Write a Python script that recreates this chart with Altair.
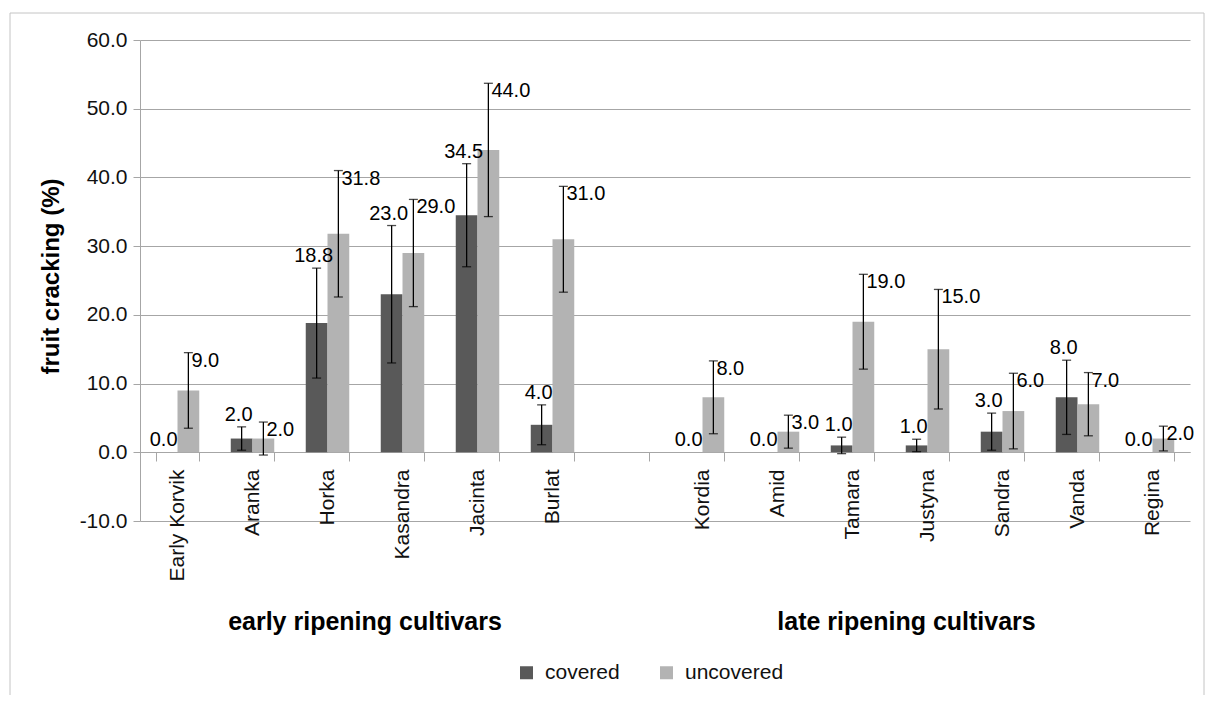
import altair as alt
import pandas as pd

# ---- data ----
early = ["Early Korvik", "Aranka", "Horka", "Kasandra", "Jacinta", "Burlat"]
late = ["Kordia", "Amid", "Tamara", "Justyna", "Sandra", "Vanda", "Regina"]
cultivars = early + late
covered = [0.0, 2.0, 18.8, 23.0, 34.5, 4.0, 0.0, 0.0, 1.0, 1.0, 3.0, 8.0, 0.0]
uncovered = [9.0, 2.0, 31.8, 29.0, 44.0, 31.0, 8.0, 3.0, 19.0, 15.0, 6.0, 7.0, 2.0]
covered_err = [0.0, 1.7, 8.0, 10.0, 7.5, 2.9, 0.0, 0.0, 1.2, 0.9, 2.7, 5.4, 0.0]
uncovered_err = [5.5, 2.4, 9.2, 7.8, 9.7, 7.7, 5.3, 2.4, 6.9, 8.7, 5.5, 4.6, 1.8]
series = ["covered", "uncovered"]
colors = ["#595959", "#b3b3b3"]
group_labels = ["early ripening cultivars", "late ripening cultivars"]
group_anchor = ["Horka", "Justyna"]
y_ticks = [-10, 0, 10, 20, 30, 40, 50, 60]

domain = early + [" "] + late

rows = []
for i, c in enumerate(cultivars):
    rows.append({"cultivar": c, "series": "covered", "value": covered[i], "err": covered_err[i]})
    rows.append({"cultivar": c, "series": "uncovered", "value": uncovered[i], "err": uncovered_err[i]})
df = pd.DataFrame(rows)
df["lo"] = df["value"] - df["err"]
df["hi"] = df["value"] + df["err"]

FONT = "Liberation Sans"
GRID = "#a6a6a6"

xenc = alt.X(
    "cultivar:N",
    scale=alt.Scale(domain=domain, paddingInner=0.42, paddingOuter=0.21),
    axis=alt.Axis(
        title=None, labelAngle=-90, labelFontSize=21, labelColor="#111111",
        labelPadding=8, tickBand="extent", tickSize=9, tickColor=GRID,
        domainColor=GRID, offset=-69, labelFont=FONT,
    ),
)
xoff = alt.XOffset("series:N", scale=alt.Scale(domain=series, paddingInner=0))
yscale = alt.Scale(domain=[-10, 60], nice=False)

base = alt.Chart(df)

bars = base.mark_bar().encode(
    x=xenc,
    xOffset=xoff,
    y=alt.Y(
        "value:Q", scale=yscale,
        axis=alt.Axis(
            title="fruit cracking (%)", values=y_ticks,
            labelExpr="datum.value < 0 ? '-' + format(-datum.value, '.1f') : format(datum.value, '.1f')",
            labelFontSize=21, labelColor="#111111", labelPadding=6,
            tickSize=7, tickColor=GRID, domainColor=GRID, gridColor=GRID,
            titleFontSize=24, titleFontWeight="bold", titleColor="#000000",
            titleX=-77, titleY=236, titleAngle=270, titleAlign="center",
            titleBaseline="bottom",
        ),
    ),
    color=alt.Color(
        "series:N", scale=alt.Scale(domain=series, range=colors),
        legend=alt.Legend(
            title=None, orient="none", direction="horizontal",
            legendX=376, legendY=622, symbolType="square", symbolSize=169,
            symbolStrokeWidth=0, labelFontSize=21, labelOffset=8,
            columnPadding=36, padding=0, labelFont=FONT, labelColor="#111111",
        ),
    ),
)

errs = base.transform_filter("datum.err > 0")
err_rule = errs.mark_rule(color="#000000", strokeWidth=1.3).encode(
    x=alt.X("cultivar:N"), xOffset=xoff,
    y=alt.Y("lo:Q", scale=yscale), y2="hi:Q",
)
cap_hi = errs.mark_tick(color="#000000", size=9, thickness=1.3).encode(
    x=alt.X("cultivar:N"), xOffset=xoff, y=alt.Y("hi:Q", scale=yscale),
)
cap_lo = errs.mark_tick(color="#000000", size=9, thickness=1.3).encode(
    x=alt.X("cultivar:N"), xOffset=xoff, y=alt.Y("lo:Q", scale=yscale),
)

lab_cov = base.transform_filter("datum.series == 'covered'").mark_text(
    fontSize=20, font=FONT, color="#000000", align="center", baseline="bottom", dx=-3, dy=-2
).encode(
    x=alt.X("cultivar:N"), xOffset=xoff, y=alt.Y("hi:Q", scale=yscale),
    text=alt.Text("value:Q", format=".1f"),
)
lab_unc = base.transform_filter("datum.series == 'uncovered'").mark_text(
    fontSize=20, font=FONT, color="#000000", align="left", baseline="middle", dx=3, dy=8
).encode(
    x=alt.X("cultivar:N"), xOffset=xoff, y=alt.Y("hi:Q", scale=yscale),
    text=alt.Text("value:Q", format=".1f"),
)

gdf = pd.DataFrame({"label": group_labels, "anchor": group_anchor, "shift": [37.5, -21]})
grp = alt.layer(*[
    alt.Chart(gdf.iloc[[k]]).mark_text(
        fontSize=25, fontWeight="bold", font=FONT, color="#000000",
        align="center", baseline="middle", dx=float(gdf["shift"][k]),
    ).encode(x=alt.X("anchor:N"), y=alt.value(582), text="label:N")
    for k in range(len(gdf))
])

one = pd.DataFrame({"k": [0]})
FRAME = "#c4c4c4"
frame_left = alt.Chart(one).mark_rule(color=FRAME, strokeWidth=1).encode(
    x=alt.value(-130), y=alt.value(-27), y2=alt.value(700))
frame_top = alt.Chart(one).mark_rule(color=FRAME, strokeWidth=1).encode(
    x=alt.value(-130), x2=alt.value(1064), y=alt.value(-27))
frame_right = alt.Chart(one).mark_rule(color=FRAME, strokeWidth=1).encode(
    x=alt.value(1064), y=alt.value(-27), y2=alt.value(700))

chart = alt.layer(
    bars, err_rule, cap_hi, cap_lo, lab_cov, lab_unc, grp,
    frame_left, frame_top, frame_right,
).properties(
    width=1050, height=481,
    autosize=alt.AutoSizeParams(type="none"),
    padding={"left": 132, "top": 32, "right": 16, "bottom": 174},
).configure(font=FONT).configure_view(stroke=None)

chart.save("out.html", embed_options={"renderer": "svg", "actions": False})
